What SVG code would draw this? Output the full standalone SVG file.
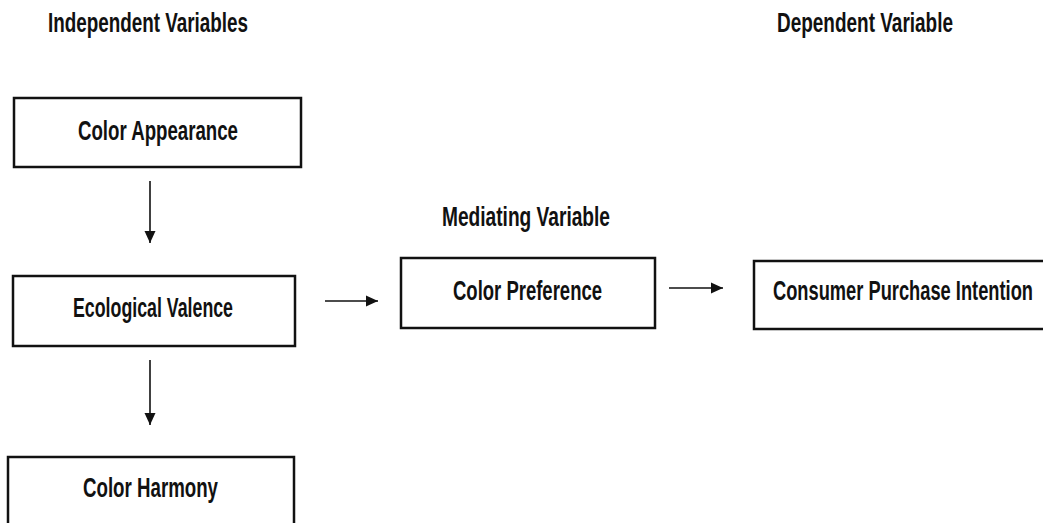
<svg xmlns="http://www.w3.org/2000/svg" width="1043" height="523" viewBox="0 0 1043 523">
<style>
.t{font-family:"Liberation Sans",Arial,sans-serif;font-weight:bold;font-size:27px;fill:#111}
.b{fill:#fff;stroke:#111;stroke-width:2.5}
.c{stroke:#111;stroke-width:1.6;fill:none}
</style>
<defs>
<marker id="ah" viewBox="0 0 12 12" refX="12" refY="6" markerWidth="12" markerHeight="12" markerUnits="userSpaceOnUse" orient="auto">
<path d="M0,0.5 L12,6 L0,11.5 Z" fill="#111"/>
</marker>
</defs>
<rect width="1043" height="523" fill="#fff"/>
<g id="headers">
<text class="t" x="48" y="32" textLength="200" lengthAdjust="spacingAndGlyphs">Independent Variables</text>
<text class="t" x="777" y="32" textLength="176" lengthAdjust="spacingAndGlyphs">Dependent Variable</text>
<text class="t" x="442" y="226" textLength="168" lengthAdjust="spacingAndGlyphs">Mediating Variable</text>
</g>
<g id="color-appearance">
<rect class="b" x="14" y="98" width="287" height="69"/>
<text class="t" x="78" y="140" textLength="160" lengthAdjust="spacingAndGlyphs">Color Appearance</text>
</g>
<g id="ecological-valence">
<rect class="b" x="13" y="276" width="282" height="70"/>
<text class="t" x="73" y="317" textLength="160" lengthAdjust="spacingAndGlyphs">Ecological Valence</text>
</g>
<g id="color-harmony">
<rect class="b" x="8" y="457" width="286" height="80"/>
<text class="t" x="83" y="497" textLength="135" lengthAdjust="spacingAndGlyphs">Color Harmony</text>
</g>
<g id="color-preference">
<rect class="b" x="401" y="258" width="254" height="70"/>
<text class="t" x="453" y="300" textLength="149" lengthAdjust="spacingAndGlyphs">Color Preference</text>
</g>
<g id="consumer-purchase-intention">
<rect class="b" x="754" y="261" width="300" height="68"/>
<text class="t" x="773" y="300" textLength="260" lengthAdjust="spacingAndGlyphs">Consumer Purchase Intention</text>
</g>
<g id="connectors">
<line class="c" x1="150" y1="181" x2="150" y2="243" marker-end="url(#ah)"/>
<line class="c" x1="150" y1="360" x2="150" y2="425" marker-end="url(#ah)"/>
<line class="c" x1="325" y1="301" x2="378" y2="301" marker-end="url(#ah)"/>
<line class="c" x1="669" y1="288" x2="723" y2="288" marker-end="url(#ah)"/>
</g>
</svg>
